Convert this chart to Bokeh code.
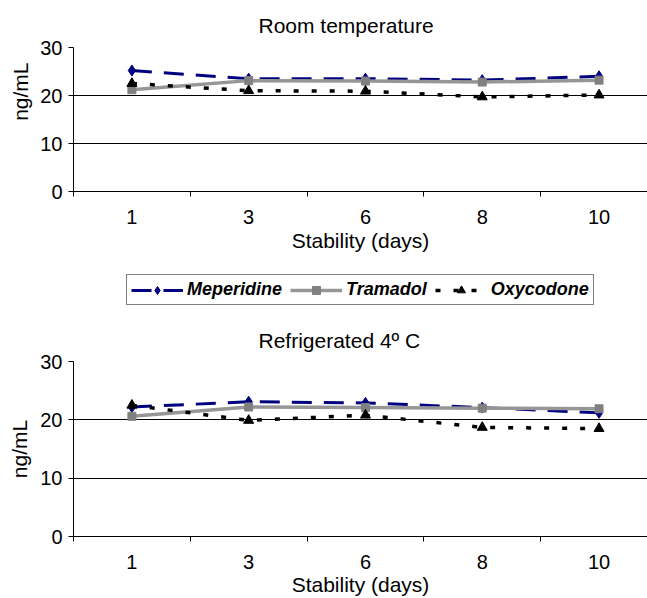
from bokeh.plotting import figure
from bokeh.layouts import column
from bokeh.models import Range1d, FixedTicker, Legend, LegendItem, Title
from bokeh.embed import file_html
from bokeh.resources import INLINE

# ---- data ----
days = ["1", "3", "6", "8", "10"]
room_meperidine = [25.2, 23.5, 23.5, 23.2, 24.0]
room_tramadol = [21.2, 23.1, 23.0, 22.8, 23.2]
room_oxycodone = [22.5, 21.0, 20.9, 19.7, 20.1]
fridge_meperidine = [22.2, 23.1, 22.9, 22.1, 21.2]
fridge_tramadol = [20.6, 22.2, 22.1, 22.0, 21.9]
fridge_oxycodone = [22.5, 19.9, 20.8, 18.7, 18.5]
y_ticks = [0, 10, 20, 30]
series_names = ["Meperidine", "Tramadol", "Oxycodone"]
titles = ["Room temperature", "Refrigerated 4\u00ba C"]
x_title = "Stability (days)"
y_title = "ng/mL"

FONT = "Liberation Sans"
NAVY = "#000080"
GRAY_LINE = "#969696"
GRAY_MARK = "#808080"
BLACK = "#000000"

STYLES = [
    dict(color=NAVY, mcolor=NAVY, width=3, dash="20 12", marker="diamond", size=11),
    dict(color=GRAY_LINE, mcolor=GRAY_MARK, width=3.5, dash="solid", marker="square", size=8),
    dict(color=BLACK, mcolor=BLACK, width=3.5, dash="5 13", marker="triangle", size=10),
]

xs = [i + 0.5 for i in range(len(days))]
x_bounds = list(range(len(days) + 1))
X_END = 4.915


def add_series(p, series):
    out = []
    for vals, st in zip(series, STYLES):
        lr = p.line(xs, vals, line_color=st["color"], line_width=st["width"], line_dash=st["dash"])
        sr = p.scatter(xs, vals, marker=st["marker"], size=st["size"],
                       fill_color=st["mcolor"], line_color=st["mcolor"])
        out.append((lr, sr))
    return out


def make_chart(title, series, height, border_top, border_bottom,
               tick_standoff, xlabel_standoff, title_standoff, ylabel_mode="axis"):
    p = figure(width=647, height=height, output_backend="svg", toolbar_location=None,
               x_range=Range1d(0, X_END), y_range=Range1d(0, 30),
               min_border_left=72, min_border_right=0,
               min_border_top=border_top, min_border_bottom=border_bottom)
    p.outline_line_color = None
    p.background_fill_color = "white"
    p.border_fill_color = "white"

    p.title.text = title
    p.title.align = "left"
    p.title.offset = 185
    p.title.text_font = FONT
    p.title.text_font_size = "21px"
    p.title.text_font_style = "normal"
    p.title.text_color = BLACK
    p.title.standoff = title_standoff

    # x axis: labels at category centres, ticks between categories
    xa = p.xaxis[0]
    xa.ticker = FixedTicker(ticks=xs, minor_ticks=x_bounds)
    xa.major_label_overrides = {x: d for x, d in zip(xs, days)}
    xa.major_tick_out = 0
    xa.major_tick_in = 0
    xa.minor_tick_out = 5
    xa.minor_tick_in = 0
    xa.minor_tick_line_color = BLACK
    xa.axis_line_color = BLACK
    xa.major_label_standoff = tick_standoff
    xa.major_label_text_font = FONT
    xa.major_label_text_font_size = "20px"
    xa.major_label_text_color = BLACK
    xa.axis_label = x_title
    xa.axis_label_text_font = FONT
    xa.axis_label_text_font_size = "21px"
    xa.axis_label_text_font_style = "normal"
    xa.axis_label_text_color = BLACK
    xa.axis_label_standoff = xlabel_standoff

    ya = p.yaxis[0]
    ya.ticker = FixedTicker(ticks=y_ticks)
    ya.major_tick_out = 5
    ya.major_tick_in = 0
    ya.major_tick_line_color = BLACK
    ya.axis_line_color = BLACK
    ya.major_label_standoff = 6
    ya.major_label_text_font = FONT
    ya.major_label_text_font_size = "20px"
    ya.major_label_text_color = BLACK
    if ylabel_mode == "axis":
        ya.axis_label = y_title
        ya.axis_label_text_font = FONT
        ya.axis_label_text_font_size = "21px"
        ya.axis_label_text_font_style = "normal"
        ya.axis_label_text_color = BLACK
        ya.axis_label_standoff = 6
    else:
        # upper chart: y title sits above the frame centre in the reference
        p.add_layout(Title(text=y_title, align="right", offset=15, standoff=12,
                           text_font=FONT, text_font_size="21px",
                           text_font_style="normal", text_color=BLACK), "left")

    p.xgrid.visible = False
    p.ygrid.ticker = FixedTicker(ticks=y_ticks)
    p.ygrid.grid_line_color = BLACK
    p.ygrid.grid_line_width = 1

    add_series(p, series)
    return p


room = [room_meperidine, room_tramadol, room_oxycodone]
fridge = [fridge_meperidine, fridge_tramadol, fridge_oxycodone]

p_top = make_chart(titles[0], room, height=270, border_top=47, border_bottom=79,
                   tick_standoff=13, xlabel_standoff=2, title_standoff=21,
                   ylabel_mode="title")

# legend strip: same series, drawn outside its visible y-range so only the legend shows
p_leg = figure(width=647, height=46, output_backend="svg", toolbar_location=None,
               x_axis_type=None, y_axis_type=None,
               x_range=Range1d(0, X_END), y_range=Range1d(100, 101),
               min_border_left=72, min_border_right=0, min_border_top=0, min_border_bottom=0)
p_leg.outline_line_color = None
leg_r = add_series(p_leg, room)
items = [LegendItem(label=name, renderers=[lr, sr])
         for name, (lr, sr) in zip(series_names, leg_r)]
legend = Legend(items=items, orientation="horizontal", location=(53, 11),
                glyph_width=52, glyph_height=20, label_height=20, label_standoff=4,
                spacing=8, padding=4, margin=0,
                label_text_font=FONT, label_text_font_size="18px",
                label_text_font_style="bold italic", label_text_color=BLACK,
                border_line_color=BLACK, border_line_width=1.5,
                background_fill_color="white", background_fill_alpha=1)
p_leg.add_layout(legend)

p_bot = make_chart(titles[1], fridge, height=282, border_top=45, border_bottom=60,
                   tick_standoff=13, xlabel_standoff=1, title_standoff=19)

layout = column(p_top, p_leg, p_bot)
open("out.html", "w").write(file_html(layout, INLINE))
